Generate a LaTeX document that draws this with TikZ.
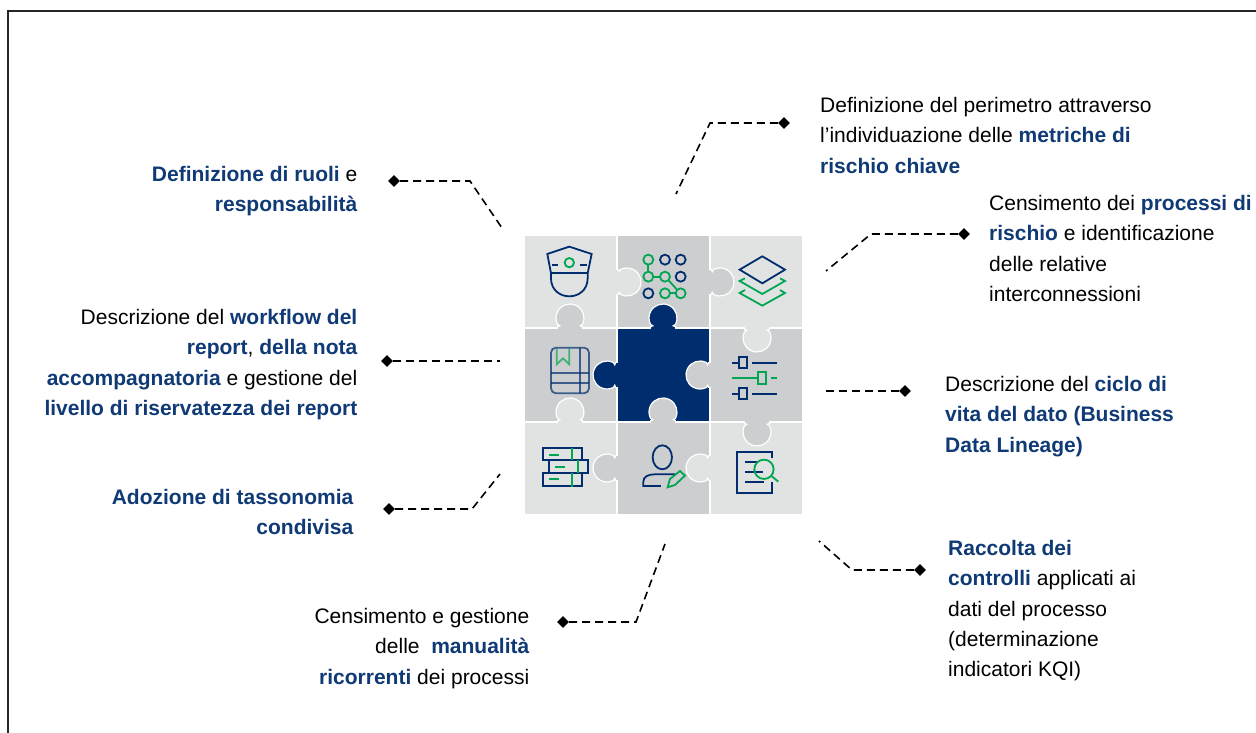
\documentclass[tikz,border=0pt]{standalone}
\usepackage{fontspec}
\setmainfont{Liberation Sans}
\usetikzlibrary{shapes.geometric}
\definecolor{lighttile}{HTML}{E1E3E3}
\definecolor{darktile}{HTML}{CDCED0}
\definecolor{navytile}{HTML}{002D6E}
\definecolor{navytext}{HTML}{0F3A75}
\definecolor{greenicon}{HTML}{00A651}
\newcommand{\kw}[1]{\textbf{\textcolor{navytext}{#1}}}
\newcommand{\puzzletab}[4]{\begin{scope}[shift={(#1,#2)},rotate=#3,y=1pt]
\draw [fill = #4, draw = white, line width = 1.2pt] (-1,-13) .. controls (1,-13) and (2.5,-12) .. (2.2,-10.2) .. controls (2.2,-11) and (3,-12) .. (3.64,-12.47) arc[start angle=-117,end angle=117,radius=14] .. controls (3,12) and (2.2,11) .. (2.2,10.2) .. controls (2.5,12) and (1,13) .. (-1,13);
\end{scope}}
\tikzset{
  label/.style = {inner sep = 0, font = \fontsize{21}{30.3}\selectfont},
  labelleft/.style = {label, align = left, anchor = north west},
  labelright/.style = {label, align = right, anchor = north east},
  pin/.style = {diamond, fill = black, inner sep = 0, minimum size = 12pt},
  leader/.style = {draw = black, line width = 1.6pt, dash pattern = on 8pt off 5pt},
  navyline/.style = {draw = navytile, line width = 1.8pt},
  greenline/.style = {draw = greenicon, line width = 1.8pt}
}
\begin{document}
\begin{tikzpicture}[x=1pt,y=-1pt]
\useasboundingbox (0,0) rectangle (1256,733);
\draw [draw = black!85, line width = 1.2pt] (8,733) -- (8,11) -- (1256,11);
\foreach \cx/\cy/\tilecol in {524/235/lighttile,617/235/darktile,710/235/lighttile,524/328/darktile,617/328/navytile,710/328/darktile,524/422/lighttile,617/422/darktile,710/422/lighttile}
  \pgfmathsetmacro\ch{\cy==328 ? 94 : 93}
  \draw [fill = \tilecol, draw = white, line width = 1.2pt] (\cx,\cy) rectangle (\cx+93,\cy+\ch);
\puzzletab{617}{282}{0}{lighttile}
\puzzletab{710}{282}{0}{darktile}
\puzzletab{570}{328}{90}{darktile}
\puzzletab{663}{328}{90}{navytile}
\puzzletab{757}{328}{270}{lighttile}
\puzzletab{617}{375}{180}{navytile}
\puzzletab{710}{375}{180}{darktile}
\puzzletab{570}{422}{90}{lighttile}
\puzzletab{663}{422}{90}{darktile}
\puzzletab{757}{422}{270}{darktile}
\puzzletab{617}{468}{180}{darktile}
\puzzletab{710}{468}{180}{lighttile}
\begin{scope}[shift={(515,225)},x=0.3333pt,y=-0.3333pt]
\draw [navyline] (108,145) -- (97,87) -- (163,65) -- (230,87) -- (218,145);
\draw [navyline] (106,145) -- (220,145);
\draw [navyline] (108,145) -- (108,160) .. controls (108,195) and (135,214) .. (163,214) .. controls (191,214) and (218,195) .. (218,160) -- (218,145);
\draw [navyline] (110,120) -- (130,120);
\draw [navyline] (196,120) -- (216,120);
\draw [greenline] (163,113) circle[radius=14];
\foreach \px/\py in {450/104,497/104,497/155,400/205}
  \draw [navyline] (\px,\py) circle[radius=15];
\foreach \px/\py in {400/104,400/155,450/155,450/205,497/205}
  \draw [greenline] (\px,\py) circle[radius=15];
\draw [greenline] (400,119) -- (400,140);
\draw [greenline] (415,155) -- (435,155);
\draw [greenline] (461,166) -- (486,194);
\draw [greenline] (465,205) -- (482,205);
\draw [navyline] (742,94) -- (810,134) -- (742,175) -- (674,134) -- cycle;
\draw [greenline] (690,160) -- (674,168) -- (742,207) -- (810,168) -- (795,160);
\draw [greenline] (690,195) -- (674,204) -- (742,242) -- (810,204) -- (795,195);
\draw [navyline, opacity = 0.7, rounded corners = 5pt] (108,368) rectangle (222,505);
\draw [navyline, opacity = 0.7] (195,368) -- (195,505);
\draw [navyline, opacity = 0.7] (108,445) -- (222,445);
\draw [navyline, opacity = 0.7] (108,475) -- (222,475);
\draw [greenline, opacity = 0.7] (125,370) -- (125,418) -- (144,400) -- (163,418) -- (163,370);
\foreach \py in {413,506} {
  \draw [navyline] (652,\py) -- (672,\py);
  \draw [navyline] (672,\py-16) rectangle (696,\py+16);
  \draw [navyline] (712,\py) -- (785,\py);
}
\draw [greenline] (652,459) -- (730,459);
\draw [greenline] (730,442) rectangle (752,476);
\draw [greenline] (768,459) -- (785,459);
\draw [navyline] (83,670) rectangle (202,705);
\draw [navyline] (102,706) rectangle (220,743);
\draw [navyline] (83,745) rectangle (202,782);
\draw [greenline] (170,668) -- (170,705);
\draw [greenline] (188,705) -- (188,743);
\draw [greenline] (170,745) -- (170,785);
\draw [greenline] (102,690) -- (132,690);
\draw [greenline] (120,725) -- (150,725);
\draw [greenline] (102,762) -- (132,762);
\draw [navyline] (442,697) ellipse[x radius=29,y radius=36];
\draw [navyline] (438,783) -- (385,783) -- (385,770) .. controls (385,755) and (400,748) .. (420,748) -- (480,748);
\draw [greenline] (458,787) -- (465,762) -- (495,738) -- (510,752) -- (480,780) -- cycle;
\draw [navyline] (772,700) -- (772,682) -- (667,682) -- (667,805) -- (772,805) -- (772,770);
\draw [navyline] (690,712) -- (725,712);
\draw [navyline] (690,742) -- (745,742);
\draw [navyline] (690,770) -- (748,770);
\draw [greenline] (747,733) circle[radius=29];
\draw [greenline] (768,752) -- (790,770);
\end{scope}
\node [labelright] (ruoli) at (357.5,166) {\kw{Definizione di ruoli} e\\\kw{responsabilità}};
\node [labelright] (workflow) at (357.5,309) {Descrizione del \kw{workflow del}\\\kw{report}, \kw{della nota}\\\kw{accompagnatoria} e gestione del\\\kw{livello di riservatezza dei report}};
\node [labelright] (tassonomia) at (353.5,489) {\kw{Adozione di tassonomia}\\\kw{condivisa}};
\node [labelright] (manualita) at (529.5,608) {Censimento e gestione\\delle~ \kw{manualità}\\\kw{ricorrenti} dei processi};
\node [labelleft] (perimetro) at (820,97) {Definizione del perimetro attraverso\\l’individuazione delle \kw{metriche di}\\\kw{rischio chiave}};
\node [labelleft] (processi) at (989,195) {Censimento dei \kw{processi di}\\\kw{rischio} e identificazione\\delle relative\\interconnessioni};
\node [labelleft] (ciclo) at (945,376) {Descrizione del \kw{ciclo di}\\\kw{vita del dato (Business}\\\kw{Data Lineage)}};
\node [labelleft] (controlli) at (948,540) {\kw{Raccolta dei}\\\kw{controlli} applicati ai\\dati del processo\\(determinazione\\indicatori KQI)};
\node [pin] (pin1) at (394,181) {};
\node [pin] (pin2) at (387,361) {};
\node [pin] (pin3) at (389,509) {};
\node [pin] (pin4) at (563,622) {};
\node [pin] (pin5) at (784,123) {};
\node [pin] (pin6) at (964,234) {};
\node [pin] (pin7) at (905,391) {};
\node [pin] (pin8) at (920,570) {};
\coordinate (end1) at (502,228);
\coordinate (end2) at (500,361);
\coordinate (end3) at (500,474);
\coordinate (end4) at (665,544);
\coordinate (end5) at (676,194);
\coordinate (end6) at (826,271);
\coordinate (end7) at (824,391);
\coordinate (end8) at (819,541);
\draw [leader] (pin1) -- (470,181) -- (end1);
\draw [leader] (pin2) -- (end2);
\draw [leader] (pin3) -- (472,509) -- (end3);
\draw [leader] (pin4) -- (636,622) -- (end4);
\draw [leader] (pin5) -- (710,123) -- (end5);
\draw [leader] (pin6) -- (871,234) -- (end6);
\draw [leader] (pin7) -- (end7);
\draw [leader] (pin8) -- (852,570) -- (end8);
\end{tikzpicture}
\end{document}
